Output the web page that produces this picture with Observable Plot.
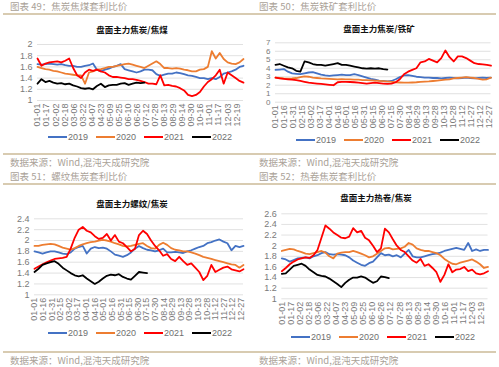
<!DOCTYPE html>
<html><head><meta charset="utf-8">
<script src="https://cdn.jsdelivr.net/npm/d3@7"></script>
<script src="https://cdn.jsdelivr.net/npm/@observablehq/plot@0.6"></script>
<style>
body{margin:0;background:#fff;width:499px;height:367px;overflow:hidden;position:relative;font-family:"Liberation Sans",Arial,sans-serif}
.abs{position:absolute}
.hdr{font-family:"Noto Sans CJK SC";font-size:9.5px;color:#aaa298;white-space:nowrap;line-height:12px}
.rule{height:1.5px;background:#d8cbb1}
.ttl{font-family:"Noto Sans CJK SC";font-weight:bold;font-size:8.5px;color:#111;transform:translateX(-50%);white-space:nowrap;line-height:10px}
.leg{display:flex;font-size:9px;color:#6f6f6f;line-height:10px;white-space:nowrap;align-items:center}
.leg .it{display:flex;align-items:center;margin-right:8px}
.leg .sw{width:19px;height:2px;margin-right:1px}
</style></head>
<body>
<div id="root"></div>
<script>
const years = ["2019","2020","2021","2022"];
const colors = ["#4472C4","#ED7D31","#FF0000","#000000"];

const headers = ["图表 49：焦炭焦煤套利比价","图表 50：焦炭铁矿套利比价","图表 51：螺纹焦炭套利比价","图表 52：热卷焦炭套利比价"];
const titles = ["盘面主力焦炭/焦煤","盘面主力焦炭/铁矿","盘面主力螺纹/焦炭","盘面主力热卷/焦炭"];
const source = "数据来源：Wind,混沌天成研究院";

const ticksA = ["01-01","01-17","02-02","02-18","03-06","03-22","04-07","04-23","05-09","05-25","06-10","06-26","07-12","07-28","08-13","08-29","09-14","09-30","10-16","11-01","11-17","12-03","12-19"];
const ticksB = ["01-01","01-16","01-31","02-15","03-02","03-17","04-01","04-16","05-01","05-16","05-31","06-15","06-30","07-15","07-30","08-14","08-29","09-13","09-28","10-13","10-28","11-12","11-27","12-12","12-27"];

const yTicks49 = [1,1.2,1.4,1.6,1.8,2];
const yTicks50 = [0,1,2,3,4,5,6,7];
const yTicks51 = [1,1.2,1.4,1.6,1.8,2,2.2,2.4];
const yTicks52 = [1,1.2,1.4,1.6,1.8,2,2.2,2.4,2.6];

// weekly readings (one value every 7 days from 01-01)
const c49_2019 = [1.65,1.64,1.65,1.66,1.65,1.64,1.65,1.63,1.62,1.62,1.6,1.6,1.62,1.63,1.66,1.55,1.52,1.55,1.57,1.6,1.62,1.65,1.56,1.54,1.52,1.5,1.52,1.55,1.55,1.54,1.47,1.44,1.46,1.48,1.48,1.5,1.49,1.47,1.45,1.44,1.42,1.4,1.4,1.38,1.4,1.38,1.42,1.48,1.5,1.52,1.55,1.6,1.62];
const c49_2020 = [1.6,1.58,1.56,1.55,1.53,1.52,1.5,1.48,1.47,1.46,1.45,1.45,1.3,1.5,1.52,1.55,1.56,1.58,1.6,1.6,1.62,1.63,1.65,1.66,1.64,1.62,1.6,1.58,1.62,1.66,1.7,1.65,1.58,1.58,1.57,1.58,1.57,1.55,1.54,1.52,1.52,1.55,1.56,1.6,1.88,1.75,1.85,1.74,1.68,1.66,1.65,1.68,1.74];
const c49_2021 = [1.75,1.62,1.66,1.68,1.69,1.7,1.68,1.71,1.75,1.58,1.45,1.4,1.5,1.55,1.53,1.55,1.52,1.5,1.45,1.42,1.42,1.41,1.4,1.38,1.38,1.37,1.35,1.33,1.3,1.3,1.29,1.45,1.27,1.28,1.26,1.25,1.22,1.18,1.1,1.08,1.1,1.15,1.25,1.33,1.38,1.45,1.55,1.3,1.5,1.45,1.4,1.35,1.32];
const c49_2022 = [1.3,1.38,1.33,1.35,1.32,1.3,1.31,1.29,1.3,1.27,1.25,1.22,1.21,1.22,1.2,1.26,1.3,1.24,1.27,1.28,1.28,1.3,1.31,1.28,1.3,1.32,1.31,1.32];

const c50_2019 = [3.8,3.85,3.9,3.6,3.4,3.35,3.3,3.4,3.5,3.55,3.4,3.25,3.15,3.1,3.15,3.2,3.25,3.2,3.2,3.3,3.2,3.05,2.9,2.75,2.65,2.55,2.5,2.45,2.5,2.7,2.95,3.15,3.2,3.1,3.0,2.95,2.9,2.9,2.85,2.85,2.8,2.85,2.9,2.85,2.8,2.85,2.9,2.85,2.8,2.85,2.9,2.85,2.9];
const c50_2020 = [2.9,2.85,2.8,2.78,2.8,2.85,2.95,3.05,3.0,2.9,2.85,2.8,2.78,2.75,2.72,2.7,2.72,2.7,2.68,2.65,2.65,2.6,2.6,2.58,2.55,2.52,2.48,2.45,2.4,2.35,2.32,2.3,2.3,2.32,2.35,2.4,2.42,2.45,2.5,2.55,2.6,2.65,2.7,2.8,2.85,2.9,2.95,2.9,2.85,2.75,2.65,2.7,2.9];
const c50_2021 = [2.9,2.8,2.75,2.7,2.65,2.6,2.5,2.4,2.3,2.25,2.2,2.15,2.1,2.05,2.0,2.35,2.4,2.4,2.38,2.35,2.3,2.25,2.2,2.25,2.3,2.25,2.2,2.15,2.2,2.35,2.7,3.3,3.6,3.8,4.0,4.7,4.8,5.1,4.9,4.7,5.2,6.1,5.3,4.8,5.4,5.4,5.2,4.9,4.6,4.5,4.45,4.4,4.3];
const c50_2022 = [4.4,4.5,4.3,4.1,4.0,3.7,3.6,4.8,4.7,4.5,4.4,4.4,4.3,4.4,4.5,4.6,4.4,4.4,4.3,4.2,4.1,4.0,3.95,4.0,3.95,4.0,3.9,3.85];

const c51_2019 = [1.8,1.78,1.76,1.78,1.8,1.8,1.78,1.76,1.75,1.78,1.85,1.88,1.9,1.76,1.85,1.88,1.86,1.87,1.85,1.8,1.74,1.72,1.7,1.73,1.78,1.85,1.9,1.86,1.83,1.82,1.8,1.82,1.85,1.78,1.78,1.79,1.78,1.77,1.8,1.82,1.85,1.88,1.9,1.95,1.97,2.0,2.02,1.98,1.95,1.82,1.9,1.88,1.9];
const c51_2020 = [1.9,1.9,1.92,1.93,1.94,1.93,1.9,1.87,1.85,1.83,1.86,1.9,1.93,1.95,1.97,1.98,2.0,2.01,2.0,1.98,1.95,1.93,1.9,1.89,1.9,1.92,1.94,1.95,1.9,1.86,1.85,1.92,1.96,1.92,1.86,1.83,1.82,1.8,1.8,1.78,1.76,1.73,1.7,1.68,1.66,1.64,1.62,1.6,1.58,1.56,1.55,1.5,1.55];
const c51_2021 = [1.48,1.52,1.56,1.6,1.63,1.66,1.67,1.68,1.7,1.85,2.05,2.2,2.25,2.18,2.15,2.08,2.03,2.05,2.12,2.0,2.1,1.98,1.95,1.88,1.8,1.85,2.1,2.18,2.12,2.0,1.9,1.82,1.72,1.75,1.66,1.62,1.7,1.62,1.55,1.58,1.5,1.42,1.27,1.35,1.55,1.42,1.46,1.5,1.52,1.47,1.45,1.43,1.47];
const c51_2022 = [1.42,1.48,1.55,1.58,1.6,1.62,1.57,1.5,1.45,1.4,1.36,1.34,1.36,1.3,1.25,1.2,1.24,1.3,1.35,1.37,1.36,1.38,1.33,1.3,1.28,1.35,1.42,1.41,1.4];

const c52_2019 = [1.76,1.74,1.7,1.73,1.76,1.77,1.78,1.76,1.8,1.82,1.86,1.88,1.84,1.83,1.84,1.83,1.82,1.78,1.72,1.68,1.64,1.62,1.67,1.7,1.78,1.86,1.82,1.83,1.8,1.82,1.78,1.85,1.92,1.8,1.78,1.78,1.8,1.82,1.84,1.85,1.87,1.9,1.92,1.94,1.96,1.94,1.92,2.05,1.9,1.93,1.9,1.92,1.92];
const c52_2020 = [1.9,1.92,1.94,1.93,1.9,1.88,1.85,1.84,1.86,1.88,1.9,1.87,1.8,1.76,1.85,1.87,1.88,1.88,1.9,1.88,1.85,1.82,1.78,1.8,1.85,1.9,1.95,1.96,1.93,1.94,1.95,1.98,2.05,2.02,1.95,1.92,1.9,1.9,1.88,1.86,1.82,1.75,1.7,1.66,1.65,1.68,1.7,1.72,1.74,1.7,1.65,1.58,1.6];
const c52_2021 = [1.52,1.58,1.65,1.7,1.74,1.76,1.78,1.77,1.82,1.92,2.15,2.38,2.32,2.25,2.2,2.15,2.14,2.17,2.33,2.25,2.28,2.15,2.1,2.0,1.88,1.95,2.32,2.25,2.12,2.0,1.92,1.88,1.8,1.72,1.68,1.75,1.62,1.65,1.58,1.5,1.32,1.45,1.65,1.5,1.55,1.56,1.6,1.52,1.55,1.48,1.46,1.48,1.52];
const c52_2022 = [1.47,1.48,1.55,1.62,1.64,1.66,1.62,1.55,1.5,1.45,1.43,1.42,1.38,1.33,1.28,1.22,1.3,1.36,1.4,1.4,1.42,1.4,1.35,1.3,1.33,1.42,1.41,1.39];

const parse = d3.utcParse("%Y-%m-%d");
const start = parse("2021-01-01"), end = parse("2021-12-31");
function rows(seriesList) {
  const out = [];
  seriesList.forEach((vals, k) => vals.forEach((v, i) => out.push({year: years[k], date: d3.utcDay.offset(start, i * 7), v})));
  return out;
}

function add(cls, css, text) {
  const d = document.createElement("div");
  d.className = "abs " + cls;
  Object.assign(d.style, css);
  if (text != null) d.textContent = text;
  document.body.appendChild(d);
  return d;
}

function chart(cfg) {
  const p = Plot.plot({
    width: cfg.w, height: cfg.h,
    marginTop: cfg.mt, marginRight: cfg.mr, marginBottom: cfg.mb, marginLeft: cfg.ml,
    style: {fontFamily: "Liberation Sans, Arial, sans-serif", fontSize: "9px", color: "#7a7a7a", background: "transparent", overflow: "visible"},
    x: {type: "utc", domain: [start, end]},
    y: {domain: cfg.yd},
    color: {domain: years, range: colors},
    marks: [
      Plot.gridY(cfg.yt, {stroke: "#d9d9d9", strokeOpacity: 1, strokeWidth: 0.8}),
      Plot.axisY(cfg.yt, {tickSize: 0, tickPadding: 5, label: null, tickFormat: d => String(d), fill: "#7a7a7a", fontSize: cfg.yfs || 9}),
      Plot.axisX(cfg.xt.map(s => parse("2021-" + s)), {tickSize: 0, tickPadding: 3, tickRotate: -90, label: null, tickFormat: d3.utcFormat("%m-%d"), fill: "#7a7a7a", fontSize: 9}),
      Plot.line(rows(cfg.series), {x: "date", y: "v", z: "year", stroke: "year", strokeWidth: 1.8})
    ]
  });
  const wrap = add("", {left: cfg.left + "px", top: cfg.top + "px"});
  wrap.appendChild(p);
}

function legend(left, top) {
  const l = add("leg", {left: left + "px", top: top + "px"});
  years.forEach((y, i) => {
    const it = document.createElement("div"); it.className = "it";
    const sw = document.createElement("div"); sw.className = "sw"; sw.style.background = colors[i];
    const t = document.createElement("span"); t.textContent = y;
    it.appendChild(sw); it.appendChild(t); l.appendChild(it);
  });
}

// top row
add("hdr", {left: "10px", top: "0px"}, headers[0]);
add("hdr", {left: "259px", top: "0px"}, headers[1]);
add("rule", {left: "3px", top: "13px", width: "493px"});
add("ttl", {left: "132px", top: "24px"}, titles[0]);
add("ttl", {left: "379px", top: "23px"}, titles[1]);

chart({left: 0, top: 36, w: 249, h: 98, mt: 8, mr: 6, mb: 34, ml: 37, yd: [1, 2], yt: yTicks49, xt: ticksA, series: [c49_2019, c49_2020, c49_2021, c49_2022]});
chart({left: 249, top: 36, w: 250, h: 98, mt: 6.3, mr: 8.5, mb: 32.3, ml: 26, yd: [0, 7], yt: yTicks50, xt: ticksB, yfs: 8, series: [c50_2019, c50_2020, c50_2021, c50_2022]});
legend(48, 132);
legend(296, 135);

add("rule", {left: "3px", top: "153px", width: "493px"});
add("hdr", {left: "10px", top: "156px"}, source);
add("hdr", {left: "259px", top: "156px"}, source);
add("hdr", {left: "10px", top: "170px"}, headers[2]);
add("hdr", {left: "259px", top: "170px"}, headers[3]);
add("rule", {left: "3px", top: "183px", width: "493px"});

add("ttl", {left: "132px", top: "198px"}, titles[2]);
add("ttl", {left: "376px", top: "192px"}, titles[3]);

chart({left: 0, top: 210, w: 249, h: 114, mt: 8.3, mr: 6, mb: 29.7, ml: 34, yd: [1, 2.4], yt: yTicks51, xt: ticksB, series: [c51_2019, c51_2020, c51_2021, c51_2022]});
chart({left: 249, top: 205, w: 250, h: 124, mt: 8.3, mr: 11.5, mb: 30.7, ml: 32.3, yd: [1, 2.6], yt: yTicks52, xt: ticksA, series: [c52_2019, c52_2020, c52_2021, c52_2022]});
legend(48, 328);
legend(291, 332);

add("rule", {left: "3px", top: "351px", width: "493px"});
add("hdr", {left: "10px", top: "354px"}, source);
add("hdr", {left: "259px", top: "354px"}, source);
</script>
</body></html>
